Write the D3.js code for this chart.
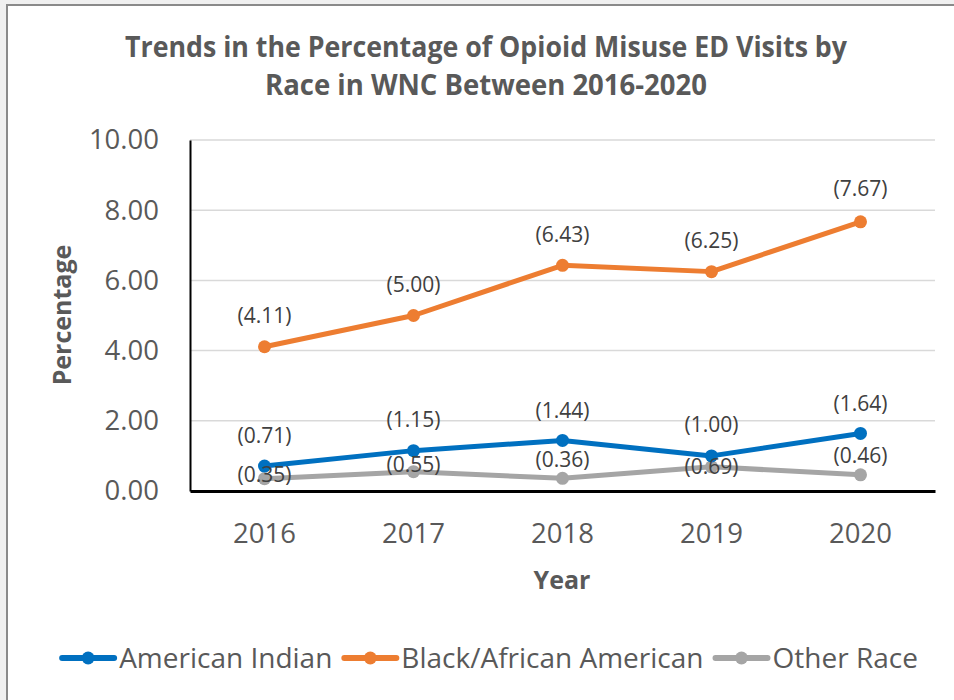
<!DOCTYPE html>
<html>
<head>
<meta charset="utf-8">
<script src="https://cdn.jsdelivr.net/npm/d3@7"></script>
<style>
  html, body { margin: 0; padding: 0; background: #f0f0f0; }
  svg { display: block; }
</style>
</head>
<body>
<svg id="chart" width="954" height="700"></svg>
<script>
// Opioid misuse ED visit percentages by race, WNC 2016-2020
const years = ["2016", "2017", "2018", "2019", "2020"];
const seriesNames = ["American Indian", "Black/African American", "Other Race"];
const americanIndian = [0.71, 1.15, 1.44, 1.00, 1.64];
const blackAfricanAmerican = [4.11, 5.00, 6.43, 6.25, 7.67];
const otherRace = [0.35, 0.55, 0.36, 0.69, 0.46];
const yTicks = [0, 2, 4, 6, 8, 10];
const seriesColors = ["#0070C0", "#ED7D31", "#A5A5A5"];
const titleLines = ["Trends in the Percentage of Opioid Misuse ED Visits by", "Race in WNC Between 2016-2020"];

// vertical nudge of each value label relative to its point (px)
const labelDy = [
  [-30, -31, -30, -31, -30],
  [-31, -31, -31, -31, -33],
  [-4, -7, -19, 0, -19]
];

const seriesValues = [americanIndian, blackAfricanAmerican, otherRace];
const series = seriesNames.map((name, i) => ({
  name, color: seriesColors[i],
  values: seriesValues[i].map((v, j) => ({ year: years[j], value: v, dy: labelDy[i][j] }))
}));

const svg = d3.select("#chart");
const textColor = "#595959";
const labelFont = "'Open Sans', 'Noto Sans', sans-serif";
const titleFont = "'Open Sans', 'Noto Sans', sans-serif";

// chart frame
svg.append("rect")
  .attr("x", 7).attr("y", 5).attr("width", 960).attr("height", 710)
  .attr("fill", "#ffffff").attr("stroke", "#8a8a8a").attr("stroke-width", 2);

const plot = { left: 190, right: 935, top: 140, bottom: 491 };

const x = d3.scaleBand().domain(years).range([plot.left, plot.right]);
const y = d3.scaleLinear().domain([0, 10]).range([plot.bottom, plot.top]);

// gridlines
svg.append("g")
  .selectAll("line")
  .data(yTicks.filter(t => t > 0))
  .join("line")
  .attr("x1", plot.left).attr("x2", plot.right)
  .attr("y1", d => y(d)).attr("y2", d => y(d))
  .attr("stroke", "#d9d9d9").attr("stroke-width", 1.5);

// y axis
const yAxis = svg.append("g")
  .attr("transform", `translate(${plot.left},0)`)
  .call(d3.axisLeft(y).tickValues(yTicks).tickFormat(d3.format(".2f")).tickSize(0).tickPadding(31));
yAxis.select(".domain").attr("stroke", "#000").attr("stroke-width", 2);
yAxis.selectAll("text")
  .attr("fill", textColor).style("font-family", labelFont).style("font-size", "27.5px");

// x axis
const xAxis = svg.append("g")
  .attr("transform", `translate(0,${plot.bottom})`)
  .call(d3.axisBottom(x).tickSize(0).tickPadding(32));
xAxis.select(".domain").attr("stroke", "#000").attr("stroke-width", 3);
xAxis.selectAll("text")
  .attr("fill", textColor).style("font-family", labelFont).style("font-size", "27.5px");

// axis titles
svg.append("text")
  .attr("x", 562).attr("y", 589)
  .attr("text-anchor", "middle")
  .attr("fill", textColor)
  .style("font-family", titleFont).style("font-weight", "bold").style("font-size", "25px")
  .text("Year");

svg.append("text")
  .attr("transform", "translate(71,315) rotate(-90)")
  .attr("text-anchor", "middle")
  .attr("fill", textColor)
  .style("font-family", titleFont).style("font-weight", "bold").style("font-size", "25px")
  .text("Percentage");

// title, set in a slightly condensed bold face
const titleWidths = [722, 442];
const titleBaselines = [57, 95];
svg.append("g")
  .selectAll("text")
  .data(titleLines)
  .join("text")
  .attr("x", 486 - 0)
  .attr("y", (d, i) => titleBaselines[i])
  .attr("text-anchor", "middle")
  .attr("fill", textColor)
  .attr("textLength", (d, i) => titleWidths[i])
  .attr("lengthAdjust", "spacingAndGlyphs")
  .style("font-family", titleFont).style("font-weight", "bold").style("font-size", "28px")
  .text(d => d);

// series lines, markers and value labels
const line = d3.line()
  .x(d => x(d.year) + x.bandwidth() / 2)
  .y(d => y(d.value));

const order = [2, 0, 1];
const layers = svg.append("g");
order.forEach(i => {
  const s = series[i];
  const g = layers.append("g");
  g.append("path")
    .datum(s.values)
    .attr("d", line)
    .attr("fill", "none")
    .attr("stroke", s.color)
    .attr("stroke-width", 5)
    .attr("stroke-linejoin", "round");
  g.selectAll("circle")
    .data(s.values)
    .join("circle")
    .attr("cx", d => x(d.year) + x.bandwidth() / 2)
    .attr("cy", d => y(d.value))
    .attr("r", 6.5)
    .attr("fill", s.color);
});

const labels = svg.append("g");
order.forEach(i => {
  const s = series[i];
  labels.selectAll(null)
    .data(s.values)
    .join("text")
    .attr("x", d => x(d.year) + x.bandwidth() / 2)
    .attr("y", d => y(d.value) + d.dy)
    .attr("dy", "0.35em")
    .attr("text-anchor", "middle")
    .attr("fill", "#404040")
    .style("font-family", labelFont).style("font-size", "21px")
    .text(d => `(${d3.format(".2f")(d.value)})`);
});

// legend
const legend = svg.append("g");
let cursor = 0;
series.forEach(s => {
  const g = legend.append("g");
  g.append("line")
    .attr("x1", 2).attr("x2", 54).attr("y1", 0).attr("y2", 0)
    .attr("stroke", s.color).attr("stroke-width", 6).attr("stroke-linecap", "round");
  g.append("circle").attr("cx", 28).attr("cy", 0).attr("r", 6.5).attr("fill", s.color);
  const t = g.append("text")
    .attr("x", 59).attr("dy", "0.35em")
    .attr("fill", textColor)
    .style("font-family", labelFont).style("font-size", "28px")
    .text(s.name);
  const w = 59 + t.node().getComputedTextLength();
  g.attr("transform", `translate(${cursor},0)`);
  cursor += w + 10;
});
const legendWidth = cursor - 10;
legend.attr("transform", `translate(${489 - legendWidth / 2},658)`);
</script>
</body>
</html>
